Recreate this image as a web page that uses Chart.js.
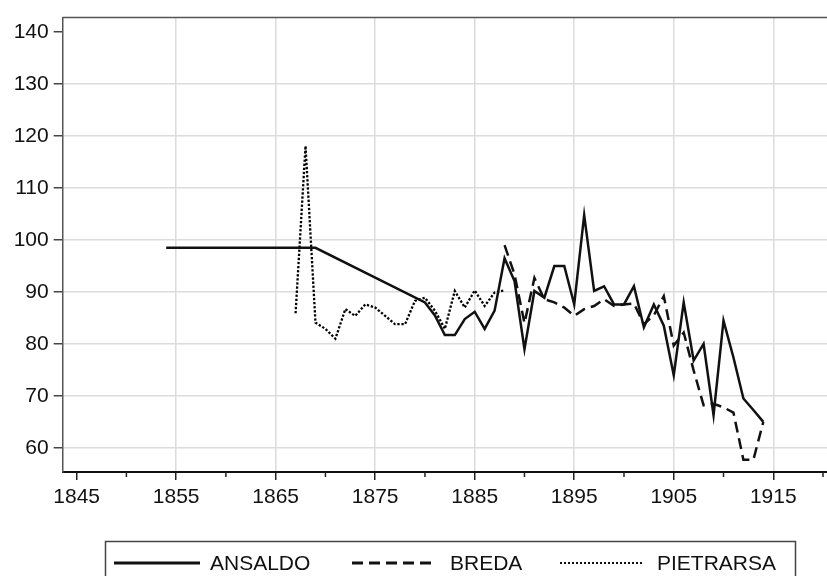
<!DOCTYPE html>
<html>
<head>
<meta charset="utf-8">
<script src="https://cdn.jsdelivr.net/npm/chart.js@4.4.1/dist/chart.umd.min.js"></script>
<style>
  html, body { margin: 0; padding: 0; background: #fff; overflow: hidden; }
  canvas { display: block; }
</style>
</head>
<body>
<canvas id="chart" width="827" height="576"></canvas>
<script>
// Data
const ansaldoYears = [1854, 1869, 1880, 1881, 1882, 1883, 1884, 1885, 1886, 1887, 1888, 1889, 1890, 1891, 1892, 1893, 1894, 1895, 1896, 1897, 1898, 1899, 1900, 1901, 1902, 1903, 1904, 1905, 1906, 1907, 1908, 1909, 1910, 1911, 1912, 1913, 1914];
const ansaldoValues = [98.5, 98.5, 88.0, 85.5, 81.7, 81.7, 84.8, 86.2, 82.9, 86.4, 96.5, 92.1, 79.0, 90.2, 88.9, 95.0, 95.0, 87.6, 104.8, 90.2, 91.1, 87.6, 87.6, 91.1, 83.2, 87.6, 83.5, 74.0, 88.0, 76.8, 80.0, 66.3, 84.5, 77.4, 69.5, 67.3, 65.0];

const bredaYears = [1888, 1889, 1890, 1891, 1892, 1893, 1894, 1895, 1896, 1897, 1898, 1899, 1900, 1901, 1902, 1903, 1904, 1905, 1906, 1907, 1908, 1909, 1910, 1911, 1912, 1913, 1914];
const bredaValues = [99.0, 93.4, 84.0, 92.7, 88.6, 88.0, 87.0, 85.4, 86.7, 87.3, 88.6, 87.3, 87.6, 87.8, 83.8, 85.5, 89.2, 79.7, 82.2, 74.9, 68.2, 68.5, 67.8, 66.8, 57.7, 57.7, 65.0];

const pietrarsaYears = [1867, 1868, 1869, 1870, 1871, 1872, 1873, 1874, 1875, 1876, 1877, 1878, 1879, 1880, 1881, 1882, 1883, 1884, 1885, 1886, 1887, 1888];
const pietrarsaValues = [85.9, 118.1, 84.1, 82.9, 81.0, 86.7, 85.4, 87.6, 87.0, 85.4, 83.8, 83.8, 88.3, 88.9, 86.4, 82.9, 90.2, 87.0, 90.3, 87.3, 89.9, 90.3];

const xTicks = [1845, 1855, 1865, 1875, 1885, 1895, 1905, 1915];
const xMinorTicks = [1850, 1860, 1870, 1880, 1890, 1900, 1910, 1920];
const yTicks = [60, 70, 80, 90, 100, 110, 120, 130, 140];

const seriesNames = ["ANSALDO", "BREDA", "PIETRARSA"];

function toPoints(years, values) {
  return years.map((y, i) => ({ x: y, y: values[i] }));
}

const FONT = '"Liberation Sans", Arial, sans-serif';
Chart.defaults.font.family = FONT;
Chart.defaults.font.size = 21;
Chart.defaults.color = "#111";

// top border, minor ticks and the boxed legend under the plot
const framePlugin = {
  id: "frame",
  afterDraw(chart) {
    const c = chart.ctx;
    const area = chart.chartArea;
    const xs = chart.scales.x;
    c.save();
    c.strokeStyle = "#555";
    c.lineWidth = 1.5;
    c.beginPath();
    c.moveTo(area.left, area.top);
    c.lineTo(area.right, area.top);
    c.stroke();

    c.strokeStyle = "#222";
    c.lineWidth = 1.5;
    xMinorTicks.forEach(v => {
      const px = xs.getPixelForValue(v);
      c.beginPath();
      c.moveTo(px, area.bottom);
      c.lineTo(px, area.bottom + 5);
      c.stroke();
    });

    // legend
    c.strokeStyle = "#444";
    c.lineWidth = 1.5;
    c.strokeRect(105.5, 541.5, 690, 60);

    const ly = 563;
    const items = [
      { x0: 114, x1: 200, tx: 210, dash: [], w: 3 },
      { x0: 352, x1: 437, tx: 450, dash: [11, 6], w: 3 },
      { x0: 560, x1: 644, tx: 657, dash: [2, 2], w: 2 }
    ];
    c.font = "21px " + FONT;
    c.fillStyle = "#111";
    c.textBaseline = "middle";
    items.forEach((it, i) => {
      c.strokeStyle = "#111";
      c.lineWidth = it.w;
      c.setLineDash(it.dash);
      c.beginPath();
      c.moveTo(it.x0, ly);
      c.lineTo(it.x1, ly);
      c.stroke();
      c.setLineDash([]);
      c.fillText(seriesNames[i], it.tx, ly + 1);
    });
    c.restore();
  }
};

const ctx = document.getElementById("chart").getContext("2d");
new Chart(ctx, {
  type: "line",
  data: {
    datasets: [
      {
        label: seriesNames[0],
        data: toPoints(ansaldoYears, ansaldoValues),
        borderColor: "#111",
        borderWidth: 2.5
      },
      {
        label: seriesNames[1],
        data: toPoints(bredaYears, bredaValues),
        borderColor: "#111",
        borderWidth: 2.5,
        borderDash: [11, 6]
      },
      {
        label: seriesNames[2],
        data: toPoints(pietrarsaYears, pietrarsaValues),
        borderColor: "#000",
        borderWidth: 2.3,
        borderDash: [2.3, 1.8]
      }
    ]
  },
  options: {
    responsive: false,
    animation: false,
    layout: { padding: { top: 13, right: 0, bottom: 0, left: 0 } },
    elements: {
      point: { radius: 0 },
      line: { tension: 0, fill: false }
    },
    plugins: {
      legend: { display: false },
      tooltip: { enabled: false }
    },
    scales: {
      x: {
        type: "linear",
        min: 1843.6,
        max: 1920.4,
        afterBuildTicks: s => { s.ticks = xTicks.map(v => ({ value: v })); },
        afterFit: s => { s.height = 104; },
        border: { color: "#111", width: 2 },
        grid: {
          color: c => (c.tick && c.tick.value === 1845 ? "rgba(0,0,0,0)" : "#dcdcdc"),
          lineWidth: 1.5,
          tickColor: "#222",
          tickLength: 8,
          tickWidth: 1.5
        },
        ticks: {
          padding: 5,
          maxRotation: 0,
          autoSkip: false,
          callback: v => String(v)
        }
      },
      y: {
        min: 55.36,
        max: 142.8,
        afterBuildTicks: s => { s.ticks = yTicks.map(v => ({ value: v })); },
        afterFit: s => { s.width = 62.7; },
        border: { color: "#555", width: 1.5 },
        grid: {
          color: c => (c.tick && c.tick.value === 140 ? "rgba(0,0,0,0)" : "#dcdcdc"),
          lineWidth: 1.5,
          tickColor: "#444",
          tickLength: 9,
          tickWidth: 1.5
        },
        ticks: {
          padding: 5,
          autoSkip: false,
          callback: v => String(v)
        }
      }
    }
  },
  plugins: [framePlugin]
});
</script>
</body>
</html>
